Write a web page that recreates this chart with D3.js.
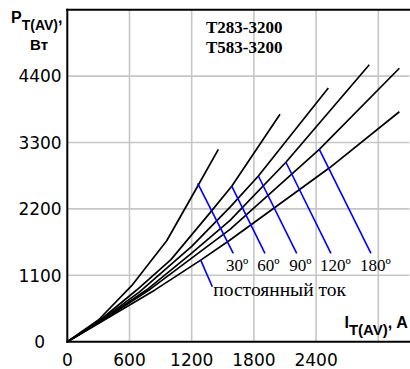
<!DOCTYPE html>
<html>
<head>
<meta charset="utf-8">
<script src="https://cdn.jsdelivr.net/npm/d3@7"></script>
<style>
  html, body { margin: 0; padding: 0; background: #fff; }
  svg { display: block; }
</style>
</head>
<body>
<svg id="chart" width="410" height="369"></svg>
<script>
// Average on-state power loss vs. average on-state current, by conduction angle
const xGridTicks = [600, 1200, 1800, 2400, 3000];
const yGridTicks = [1100, 2200, 3300, 4400];
const xTickLabels = [0, 600, 1200, 1800, 2400];
const yTickLabels = [0, 1100, 2200, 3300, 4400];

const curve30  = [[0,0],[300,360],[621,928],[814,1353],[959,1673],[1264,2596],[1457,3187]];
const curve60  = [[0,0],[300,335],[669,856],[1000,1360],[1384,2150],[1586,2576],[2052,3767]];
const curve90  = [[0,0],[300,325],[700,830],[1200,1580],[1570,2230],[1843,2745],[2518,4203]];
const curve120 = [[0,0],[300,315],[766,860],[1200,1467],[1570,2010],[2109,2973],[2913,4589]];
const curve180 = [[0,0],[300,308],[800,870],[1570,1860],[2431,3187],[3203,4530]];
const curveDC  = [[0,0],[300,300],[846,858],[1287,1351],[1570,1685],[2533,2885],[3203,3810]];

// leader lines: [from point on curve, to label]
const leaders = [
  [[1258,2623],[1601,1463]],
  [[1586,2576],[1907,1463]],
  [[1843,2745],[2213,1463]],
  [[2109,2973],[2543,1463]],
  [[2431,3187],[2929,1463]],
  [[1287,1351],[1399,911]]
];
const angleLabels = ["30º", "60º", "90º", "120º", "180º"];
const angleLabelX = [1530, 1833, 2142, 2437, 2823];
const dcLabel = "постоянный ток";
const titleLines = ["T283-3200", "T583-3200"];

const svg = d3.select("#chart");
const x = d3.scaleLinear().domain([0, 3300]).range([67.3, 409.4]);
const y = d3.scaleLinear().domain([0, 5500]).range([341.7, 9.7]);

// grid
const grid = svg.append("g").attr("stroke", "#c6c6c6").attr("stroke-width", 1.6);
grid.selectAll("line.v").data(xGridTicks).join("line")
  .attr("x1", d => x(d)).attr("x2", d => x(d))
  .attr("y1", y(0)).attr("y2", y(5500));
grid.selectAll("line.h").data(yGridTicks).join("line")
  .attr("x1", x(0)).attr("x2", x(3300))
  .attr("y1", d => y(d)).attr("y2", d => y(d));

// frame: left, bottom, top
const frame = svg.append("g").attr("stroke", "#000").attr("stroke-width", 2);
frame.append("line").attr("x1", x(0)).attr("x2", x(0)).attr("y1", y(5500) - 1).attr("y2", y(0) + 1);
frame.append("line").attr("x1", x(0) - 1).attr("x2", 410).attr("y1", y(0)).attr("y2", y(0));
frame.append("line").attr("x1", x(0) - 1).attr("x2", 410).attr("y1", y(5500)).attr("y2", y(5500));

// tick labels
const tickFont = "'DejaVu Sans', sans-serif";
svg.append("g").selectAll("text").data(yTickLabels).join("text")
  .attr("x", d => d === 0 ? 45 : 61.7)
  .attr("y", d => y(d) + 6.2)
  .attr("text-anchor", "end")
  .attr("font-family", tickFont).attr("font-size", 17)
  .text(d => d);
svg.append("g").selectAll("text").data(xTickLabels).join("text")
  .attr("x", d => x(d))
  .attr("y", 365.8)
  .attr("text-anchor", "middle")
  .attr("font-family", tickFont).attr("font-size", 17)
  .text(d => d);

// curves
const line = d3.line().x(d => x(d[0])).y(d => y(d[1]));
const curves = [curve30, curve60, curve90, curve120, curve180, curveDC];
svg.append("g").selectAll("path").data(curves).join("path")
  .attr("d", line).attr("fill", "none")
  .attr("stroke", "#000").attr("stroke-width", 1.7)
  .attr("stroke-linejoin", "round");

// leader lines
svg.append("g").selectAll("line").data(leaders).join("line")
  .attr("x1", d => x(d[0][0])).attr("y1", d => y(d[0][1]))
  .attr("x2", d => x(d[1][0])).attr("y2", d => y(d[1][1]))
  .attr("stroke", "#0000ff").attr("stroke-width", 1.6);

// annotations
const serif = "'Liberation Serif', 'Times New Roman', serif";
svg.append("g").selectAll("text").data(angleLabels).join("text")
  .attr("x", (d, i) => x(angleLabelX[i])).attr("y", 270.5)
  .attr("font-family", serif).attr("font-size", 17)
  .text(d => d);
svg.append("text").attr("x", 213.3).attr("y", 295.5)
  .attr("font-family", serif).attr("font-size", 19.5)
  .text(dcLabel);
svg.append("g").selectAll("text").data(titleLines).join("text")
  .attr("x", 206).attr("y", (d, i) => 33.3 + i * 20)
  .attr("font-family", serif).attr("font-size", 17).attr("font-weight", "bold")
  .text(d => d);

// axis titles
const sans = "'Liberation Sans', Arial, sans-serif";
const yt = svg.append("text").attr("font-family", sans).attr("font-weight", "bold")
  .attr("x", 11).attr("y", 23.3);
yt.append("tspan").attr("font-size", 16).text("P");
yt.append("tspan").attr("font-size", 14).attr("dy", 6.5).text("T(AV)");
yt.append("tspan").attr("font-size", 16).attr("dy", -6.5).text(",");
svg.append("text").attr("font-family", sans).attr("font-weight", "bold")
  .attr("font-size", 15).attr("x", 39).attr("y", 50).attr("text-anchor", "middle")
  .text("Вт");

const xt = svg.append("text").attr("font-family", sans).attr("font-weight", "bold")
  .attr("x", 344.5).attr("y", 328.3);
xt.append("tspan").attr("font-size", 16).text("I");
xt.append("tspan").attr("font-size", 15).attr("dy", 6.5).text("T(AV)");
xt.append("tspan").attr("font-size", 16).attr("dy", -6.5).text(", A");
</script>
</body>
</html>
